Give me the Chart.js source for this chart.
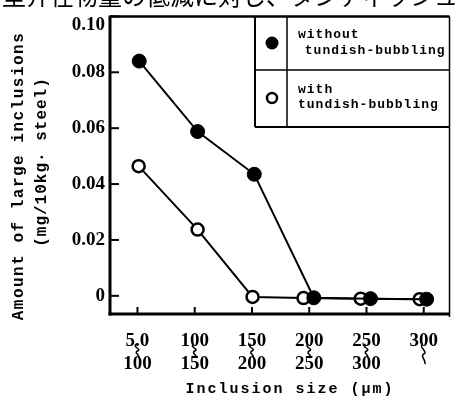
<!DOCTYPE html>
<html>
<head>
<meta charset="utf-8">
<script src="https://cdn.jsdelivr.net/npm/chart.js@4.4.1/dist/chart.umd.min.js"></script>
<style>
html, body { margin: 0; padding: 0; background: #fff; }
#wrap { width: 458px; height: 400px; position: relative; }
</style>
</head>
<body>
<div id="wrap"><canvas id="canvas"></canvas></div>
<script>
// values
const headerText = '型介在物量の低減に対し、タンディッシュ';
const sizeTickPos = [1, 2, 3, 4, 5, 6];
const sizeLower = ['5.0', '100', '150', '200', '250', '300'];
const sizeUpper = ['100', '150', '200', '250', '300', ''];
const yTickValues = [0, 0.02, 0.04, 0.06, 0.08, 0.10];

const withoutX = [1.03, 2.05, 3.04, 4.08, 5.07, 6.05];
const withoutY = [0.0840, 0.0588, 0.0435, -0.0007, -0.0010, -0.0012];
const withX = [1.02, 2.05, 3.01, 3.90, 4.90, 5.93];
const withY = [0.0464, 0.0237, -0.0004, -0.0008, -0.0010, -0.0012];

const legendLabels = [['without', ' tundish-bubbling'], ['with', 'tundish-bubbling']];

function pts(xs, ys) {
    return xs.map((v, i) => ({x: v, y: ys[i]}));
}

function line(ctx, x1, y1, x2, y2, w) {
    ctx.lineWidth = w;
    ctx.beginPath();
    ctx.moveTo(x1, y1);
    ctx.lineTo(x2, y2);
    ctx.stroke();
}

const tickFont = 'bold 19px "Liberation Serif"';

const framePlugin = {
    id: 'frame',
    beforeDraw(chart) {
        const ctx = chart.ctx;
        ctx.save();
        ctx.fillStyle = '#000';
        ctx.font = '24px "Noto Sans CJK JP"';
        ctx.textBaseline = 'middle';
        ctx.textAlign = 'left';
        ctx.fillText(headerText, 2, -4);
        ctx.restore();
    },
    afterDraw(chart) {
        const {ctx, chartArea: a, scales: {x, y}} = chart;
        ctx.save();
        ctx.strokeStyle = '#000';
        ctx.fillStyle = '#000';
        // box
        line(ctx, a.left, a.top - 1, a.left, a.bottom + 1.5, 3);
        line(ctx, a.left - 1.5, a.bottom, a.right, a.bottom, 3);
        line(ctx, a.left, a.top, a.right, a.top, 2.5);
        line(ctx, a.right, a.top, a.right, a.bottom + 3, 1.5);
        // inward ticks
        yTickValues.forEach(v => {
            const py = y.getPixelForValue(v);
            line(ctx, a.left, py, a.left + 9, py, 2);
        });
        // top label sits under its tick, clear of the header
        ctx.font = tickFont;
        ctx.textAlign = 'right';
        ctx.textBaseline = 'middle';
        ctx.fillText('0.10', a.left - 5, y.getPixelForValue(0.10) + 9);

        // size-range squiggles between the two label rows
        sizeTickPos.forEach((v, i) => {
            const px = x.getPixelForValue(v);
            line(ctx, px, a.bottom, px, a.bottom - 7, 2);
            const t = a.bottom + 30;
            const b = sizeUpper[i] ? a.bottom + 44 : a.bottom + 50;
            const m = (t + b) / 2;
            ctx.lineWidth = 1.5;
            ctx.beginPath();
            ctx.moveTo(px - 1, t);
            ctx.bezierCurveTo(px - 6, t + 3, px + 5, m - 2, px, m);
            ctx.bezierCurveTo(px - 4, m + 2, px + 3, b - 3, px + 1, b);
            ctx.stroke();
        });

        // legend box
        const lx = 255, mx = 287, ry = 70, by = 127;
        line(ctx, lx, a.top, lx, by, 2);
        line(ctx, mx, a.top, mx, by, 1.5);
        line(ctx, lx, ry, a.right, ry, 1.5);
        line(ctx, lx, by, a.right, by, 2);
        ctx.beginPath();
        ctx.arc(272, 43, 6.5, 0, Math.PI * 2);
        ctx.fill();
        ctx.beginPath();
        ctx.lineWidth = 2.5;
        ctx.fillStyle = '#fff';
        ctx.arc(272, 98, 5, 0, Math.PI * 2);
        ctx.fill();
        ctx.stroke();
        ctx.fillStyle = '#000';
        ctx.font = 'bold 13px "Liberation Mono"';
        ctx.letterSpacing = '1px';
        ctx.textAlign = 'left';
        ctx.textBaseline = 'alphabetic';
        ctx.fillText(legendLabels[0][0], 298, 38);
        ctx.fillText(legendLabels[0][1], 296, 54);
        ctx.fillText(legendLabels[1][0], 298, 93);
        ctx.fillText(legendLabels[1][1], 298, 108);

        // axis titles
        ctx.font = 'bold 15px "Liberation Mono"';
        ctx.letterSpacing = '2px';
        ctx.textAlign = 'center';
        ctx.textBaseline = 'middle';
        ctx.fillText('Inclusion size (μm)', 290, 389);
        ctx.font = 'bold 16px "Liberation Mono"';
        ctx.letterSpacing = '1.5px';
        ctx.save();
        ctx.translate(19, 176);
        ctx.rotate(-Math.PI / 2);
        ctx.fillText('Amount of large inclusions', 0, 0);
        ctx.restore();
        ctx.save();
        ctx.translate(42, 162);
        ctx.rotate(-Math.PI / 2);
        ctx.letterSpacing = '1px';
        ctx.fillText('(mg/10kg· steel)', 0, 0);
        ctx.restore();
        ctx.restore();
    }
};

const ctx = document.getElementById('canvas').getContext('2d');
const myChart = new Chart(ctx, {
    type: 'line',
    data: {
        datasets: [
            {
                label: 'without tundish-bubbling',
                data: pts(withoutX, withoutY),
                borderColor: '#000',
                borderWidth: 2,
                pointBackgroundColor: '#000',
                pointBorderColor: '#000',
                pointBorderWidth: 1,
                pointRadius: 7,
                tension: 0
            },
            {
                label: 'with tundish-bubbling',
                data: pts(withX, withY),
                borderColor: '#000',
                borderWidth: 2,
                pointBackgroundColor: '#fff',
                pointBorderColor: '#000',
                pointBorderWidth: 2.5,
                pointRadius: 6,
                tension: 0
            }
        ]
    },
    options: {
        responsive: true,
        maintainAspectRatio: false,
        animation: false,
        layout: {padding: {left: 0, top: 13, right: 3, bottom: 0}},
        plugins: {legend: {display: false}, tooltip: {enabled: false}},
        scales: {
            x: {
                type: 'linear',
                min: 0.52,
                max: 6.45,
                afterBuildTicks: s => { s.ticks = sizeTickPos.map(v => ({value: v})); },
                afterFit: s => { s.height = 86; },
                grid: {display: false, drawTicks: false},
                border: {display: false},
                ticks: {
                    color: '#000',
                    padding: 16,
                    maxRotation: 0,
                    autoSkip: false,
                    font: {family: '"Liberation Serif"', size: 19, weight: 'bold', lineHeight: '23px'},
                    callback: (v, i) => [sizeLower[i], sizeUpper[i]]
                }
            },
            y: {
                min: -0.0065,
                max: 0.10,
                afterBuildTicks: s => { s.ticks = yTickValues.map(v => ({value: v})); },
                afterFit: s => { s.width = 110; },
                grid: {display: false, drawTicks: false},
                border: {display: false},
                ticks: {
                    color: '#000',
                    padding: 5,
                    font: {family: '"Liberation Serif"', size: 19, weight: 'bold'},
                    callback: v => (v === 0 ? '0' : v === 0.10 ? '' : v.toFixed(2))
                }
            }
        }
    },
    plugins: [framePlugin]
});
</script>
</body>
</html>
